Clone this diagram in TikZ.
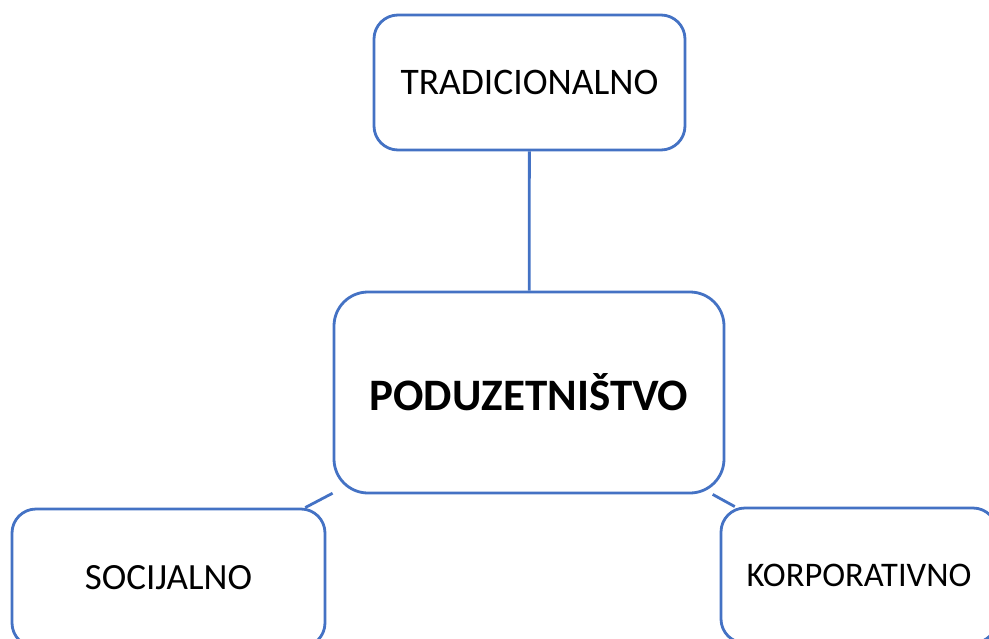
\documentclass[tikz,border=0pt]{standalone}
\usepackage{fontspec}
\setmainfont{Carlito}
\usepackage{xcolor}
\definecolor{frame}{HTML}{4472C4}
\usepackage{tikz}
\usetikzlibrary{positioning}

\begin{document}
\begin{tikzpicture}[
  x=1pt,y=-1pt,
  line width=2.8pt,
  leaf/.style={draw=frame,fill=white,rounded corners=24pt,align=center,
    font=\fontsize{37.5}{42}\selectfont,inner sep=0pt},
  core/.style={draw=frame,fill=white,rounded corners=34pt,align=center,
    font=\fontsize{45}{52}\selectfont\bfseries,inner sep=0pt,
    minimum width=390pt,minimum height=201pt},
  link/.style={draw=frame,line width=2.8pt}
]
\useasboundingbox (0,0) rectangle (989,638);
\clip (0,0) rectangle (989,638);

% Central concept
\node[core] (podu) at (529,392.5) {PODUZETNIŠTVO};

% Three kinds
\node[leaf,minimum width=311pt,minimum height=135pt] (trad) at (529.5,82.5) {TRADICIONALNO};
\node[leaf,minimum width=313pt,minimum height=138pt,font=\fontsize{37}{42}\selectfont] (soc) at (168.5,578) {SOCIJALNO};
\node[leaf,minimum width=276pt,minimum height=135pt,font=\fontsize{34.5}{40}\selectfont] (korp) at (859,575.5) {KORPORATIVNO};

% Links
\draw[link] (trad) -- (podu);
\draw[link] (podu) -- (soc);
\draw[link] (podu) -- (korp);

\end{tikzpicture}
\end{document}
